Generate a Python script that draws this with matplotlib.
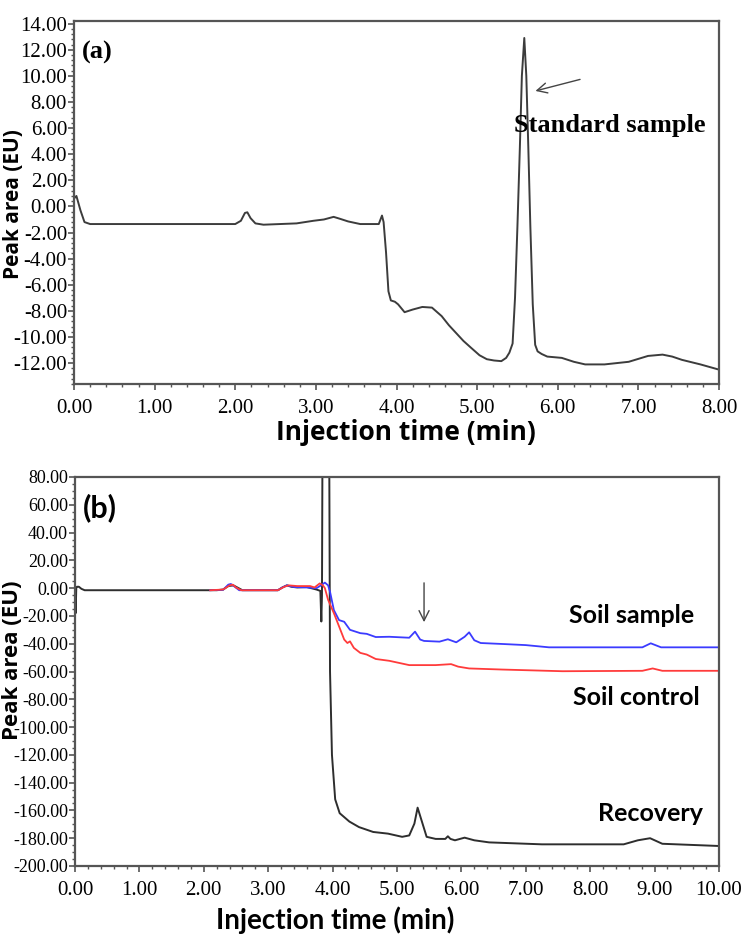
import matplotlib
matplotlib.use("Agg")
import matplotlib.pyplot as plt
from matplotlib.ticker import MultipleLocator, FormatStrFormatter

plt.rcParams['axes.unicode_minus'] = False

# ---------------- Panel (a) data ----------------
a_time = [0.00, 0.03, 0.08, 0.13, 0.20, 1.00, 2.00, 2.07, 2.12, 2.15, 2.19, 2.25, 2.35,
          2.76, 2.97, 3.10, 3.22, 3.30, 3.40, 3.55, 3.78, 3.82, 3.84, 3.87, 3.90, 3.93,
          3.98, 4.02, 4.10, 4.20, 4.32, 4.44, 4.56, 4.65, 4.74, 4.83, 4.92, 5.03, 5.12,
          5.21, 5.30, 5.36, 5.40, 5.44, 5.47, 5.50, 5.53, 5.555, 5.585, 5.61, 5.635,
          5.66, 5.69, 5.72, 5.75, 5.80, 5.87, 6.05, 6.20, 6.34, 6.58, 6.88, 7.12, 7.30,
          7.42, 7.54, 7.77, 8.00]
a_signal = [0.6, 0.8, -0.3, -1.2, -1.35, -1.35, -1.35, -1.1, -0.5, -0.45, -0.9, -1.3, -1.4,
            -1.3, -1.1, -1.0, -0.8, -0.95, -1.15, -1.35, -1.35, -0.7, -1.2, -3.5, -6.5, -7.2,
            -7.3, -7.5, -8.1, -7.9, -7.7, -7.75, -8.4, -9.1, -9.7, -10.3, -10.8, -11.4, -11.7,
            -11.8, -11.85, -11.6, -11.2, -10.5, -7.0, -1.5, 4.5, 10.0, 12.9, 10.0, 4.5,
            -1.5, -7.5, -10.6, -11.1, -11.3, -11.5, -11.6, -11.9, -12.1, -12.1, -11.9, -11.45, -11.35,
            -11.5, -11.75, -12.1, -12.5]

a_yticks = [-12, -10, -8, -6, -4, -2, 0, 2, 4, 6, 8, 10, 12, 14]
a_xticks = [0, 1, 2, 3, 4, 5, 6, 7, 8]

# ---------------- Panel (b) data ----------------
recovery_time = [0.00, 0.01, 0.02, 0.03, 0.06, 0.10, 0.15, 2.20, 2.30, 2.38, 2.46, 2.52, 2.60,
                 3.15, 3.22, 3.29, 3.36, 3.45, 3.60, 3.75, 3.81, 3.825, 3.835, 3.85, 3.94,
                 3.96, 3.99, 4.04, 4.11, 4.26, 4.41, 4.63, 4.86, 5.08, 5.19, 5.27, 5.32, 5.38,
                 5.46, 5.60, 5.75, 5.79, 5.83, 5.90, 6.05, 6.20, 6.43, 7.25, 8.52, 8.74, 8.93,
                 9.12, 10.00]
recovery_signal = [0.0, -18.0, 0.5, 1.0, 1.0, -0.5, -1.5, -1.5, -1.0, 1.5, 2.0, 0.5, -1.5,
                   -1.5, 0.5, 2.0, 1.0, 0.5, 0.8, -1.0, -2.0, -24.0, -5.0, 200.0, 200.0,
                   -60.0, -120.0, -152.0, -162.0, -168.0, -172.0, -175.5, -176.7, -179.0, -178.0, -169.5, -158.0, -167.0,
                   -179.0, -180.5, -180.5, -178.6, -180.5, -181.5, -179.6, -181.5, -183.0, -184.4, -184.4, -181.5, -180.0,
                   -184.0, -185.6]

sample_time = [2.10, 2.30, 2.38, 2.42, 2.48, 2.55, 3.15, 3.22, 3.29, 3.40, 3.60, 3.75, 3.82,
               3.88, 3.93, 3.96, 4.02, 4.10, 4.18, 4.27, 4.43, 4.53, 4.67, 4.88, 5.19, 5.28,
               5.36, 5.42, 5.66, 5.79, 5.92, 6.05, 6.12, 6.20, 6.30, 6.64, 7.00, 7.36, 8.81,
               8.94, 9.10, 10.00]
sample_signal = [-1.5, -1.2, 2.5, 3.0, 1.0, -1.5, -1.5, 0.5, 2.0, 0.8, 0.5, 0.0, 2.0,
                 4.0, 2.0, -2.6, -15.8, -23.0, -24.2, -30.0, -32.4, -32.9, -35.2, -35.0, -35.7, -31.3,
                 -37.0, -38.0, -38.5, -36.8, -39.0, -35.0, -31.8, -37.5, -39.5, -40.2, -41.0, -42.6, -42.6,
                 -39.7, -42.6, -42.6]

control_time = [2.10, 2.30, 2.40, 2.45, 2.50, 2.58, 3.15, 3.25, 3.32, 3.45, 3.65, 3.72, 3.80,
                3.85, 3.88, 3.93, 4.02, 4.10, 4.18, 4.23, 4.27, 4.33, 4.43, 4.53, 4.67, 4.88,
                5.19, 5.60, 5.84, 5.95, 6.12, 6.64, 7.57, 8.81, 8.97, 9.12, 10.00]
control_signal = [-1.5, -1.0, 2.0, 2.5, 0.5, -1.5, -1.5, 1.0, 2.0, 1.5, 1.5, 0.5, 3.4,
                  2.0, 0.0, -8.4, -18.0, -27.5, -37.0, -39.5, -38.3, -43.0, -46.6, -47.8, -51.0, -52.3,
                  -55.4, -55.4, -54.7, -56.5, -57.8, -58.6, -59.8, -59.5, -57.8, -59.5, -59.5]

b_yticks = [-200, -180, -160, -140, -120, -100, -80, -60, -40, -20, 0, 20, 40, 60, 80]
b_xticks = [0, 1, 2, 3, 4, 5, 6, 7, 8, 9, 10]

# ---------------- Figure ----------------
fig = plt.figure(figsize=(7.52, 9.48), dpi=100)
W, H = 752, 948

def add_axes_px(left, top, right, bottom):
    return fig.add_axes([left / W, 1 - bottom / H, (right - left) / W, (bottom - top) / H])

ax1 = add_axes_px(74, 21, 719, 384)
ax2 = add_axes_px(75, 477, 719, 866)

serif = 'Liberation Serif'
spine_color = '#555555'

def style_axes(ax, tick_size, minor_x, minor_y):
    for s in ax.spines.values():
        s.set_color(spine_color)
        s.set_linewidth(1.6)
    ax.xaxis.set_minor_locator(MultipleLocator(minor_x))
    ax.yaxis.set_minor_locator(MultipleLocator(minor_y))
    ax.tick_params(axis='both', which='major', direction='out', length=4, width=1.2,
                   color=spine_color, labelsize=tick_size, top=False, right=False)
    ax.tick_params(axis='both', which='minor', direction='out', length=2, width=1.0,
                   color=spine_color, top=False, right=False)
    ax.tick_params(axis='x', which='major', pad=7)
    ax.tick_params(axis='y', which='major', pad=1)
    for lab in ax.get_xticklabels() + ax.get_yticklabels():
        lab.set_fontfamily(serif)
    ax.xaxis.set_major_formatter(FormatStrFormatter('%.2f'))
    ax.yaxis.set_major_formatter(FormatStrFormatter('%.2f'))

# Panel (a)
ax1.plot(a_time, a_signal, color='#3c3c3c', lw=1.4)
ax1.set_xlim(0, 8)
ax1.set_ylim(-13.6, 14.2)
ax1.set_xticks(a_xticks)
ax1.set_yticks(a_yticks)
style_axes(ax1, 15, 0.2, 0.4)
ax1.text(0.1, 11.8, '(a)', fontfamily=serif, fontweight='bold', fontsize=19, va='center')
ax1.text(6.65, 6.2, 'Standard sample', fontfamily=serif, fontweight='bold', fontsize=19,
         ha='center', va='center')
ax1.annotate('', xy=(5.69, 8.79), xytext=(6.31, 9.78),
             arrowprops=dict(arrowstyle='->', color='#444444', lw=1.0, mutation_scale=18))
fig.text(406 / W, 1 - 433 / H, 'Injection time (min)', fontfamily='Open Sans', fontweight='bold',
         fontsize=19, ha='center', va='center')
fig.text(14 / W, 1 - 204 / H, 'Peak area (EU)', fontfamily='Open Sans', fontweight='bold',
         fontsize=15, ha='center', va='center', rotation=90)

# Panel (b)
ax2.plot(recovery_time, recovery_signal, color='#2e2e2e', lw=1.4)
ax2.plot(sample_time, sample_signal, color='#3b3bff', lw=1.3)
ax2.plot(control_time, control_signal, color='#ff3b3b', lw=1.3)
ax2.set_xlim(0, 10)
ax2.set_ylim(-200, 80)
ax2.set_xticks(b_xticks)
ax2.set_yticks(b_yticks)
style_axes(ax2, 13, 0.2, 5)
ax2.tick_params(axis='x', which='major', labelsize=15)
ax2.text(0.12, 58, '(b)', fontfamily='Lato', fontweight='bold', fontsize=22, va='center')
ax2.text(8.65, -19.4, 'Soil sample', fontfamily='Lato', fontweight='bold', fontsize=18,
         ha='center', va='center')
ax2.text(8.71, -78.4, 'Soil control', fontfamily='Lato', fontweight='bold', fontsize=18,
         ha='center', va='center')
ax2.text(8.93, -162.5, 'Recovery', fontfamily='Lato', fontweight='bold', fontsize=18,
         ha='center', va='center')
ax2.annotate('', xy=(5.42, -26.5), xytext=(5.42, 5.8),
             arrowprops=dict(arrowstyle='->', color='#444444', lw=1.0, mutation_scale=18))
fig.text(335 / W, 1 - 920 / H, 'Injection time (min)', fontfamily='Lato', fontweight='bold',
         fontsize=20, ha='center', va='center')
fig.text(13 / W, 1 - 660 / H, 'Peak area (EU)', fontfamily='Open Sans', fontweight='bold',
         fontsize=16, ha='center', va='center', rotation=90)

fig.savefig('out.png', dpi=100)
